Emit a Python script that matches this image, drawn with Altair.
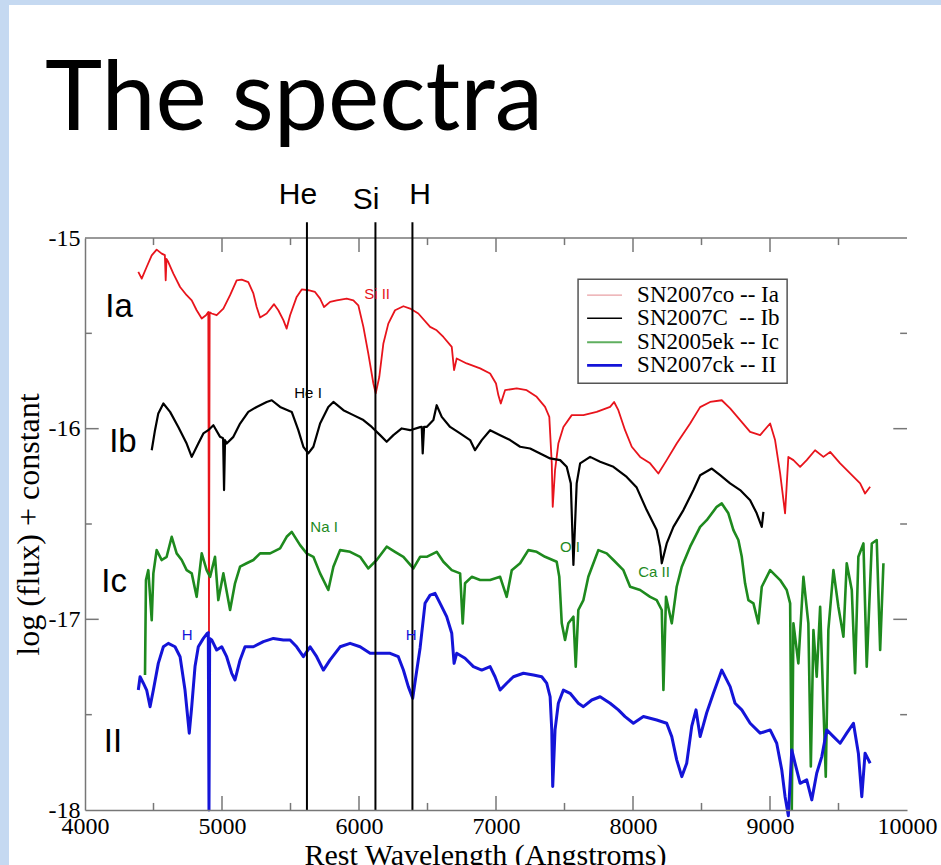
import altair as alt
import pandas as pd

# ---------------- data ----------------
ia_wl = [4389, 4414, 4450, 4487, 4523, 4560, 4583, 4589, 4595, 4608,
         4645, 4694, 4742, 4779, 4815, 4852, 4883, 4900, 4905, 4910,
         4925, 4961, 5010, 5059, 5107, 5144, 5192, 5229, 5253, 5278,
         5326, 5380, 5411, 5448, 5472, 5497, 5545, 5582, 5630, 5679,
         5716, 5745, 5789, 5837, 5910, 5959, 5995, 6032, 6068, 6105,
         6122, 6148, 6178, 6214, 6263, 6324, 6373, 6433, 6519, 6567,
         6616, 6677, 6694, 6713, 6786, 6884, 6957, 7000, 7017, 7035,
         7066, 7151, 7224, 7297, 7358, 7389, 7407, 7414, 7431, 7455,
         7492, 7553, 7638, 7735, 7833, 7862, 7893, 7942, 7991, 8052,
         8125, 8185, 8246, 8319, 8417, 8490, 8563, 8648, 8709, 8782,
         8855, 8928, 9001, 9037, 9074, 9110, 9134, 9171, 9220, 9268,
         9329, 9390, 9439, 9512, 9585, 9658, 9694, 9731]
ia_flux = [-15.178, -15.213, -15.152, -15.091, -15.061, -15.082, -15.09, -15.222, -15.11, -15.126,
           -15.187, -15.257, -15.300, -15.327, -15.379, -15.422, -15.405, -15.388, -17.07, -15.39,
           -15.396, -15.405, -15.370, -15.300, -15.222, -15.218, -15.231, -15.291, -15.362, -15.417,
           -15.396, -15.347, -15.379, -15.431, -15.475, -15.405, -15.309, -15.270, -15.274, -15.283,
           -15.318, -15.362, -15.335, -15.327, -15.318, -15.327, -15.353, -15.466, -15.606, -15.763,
           -15.815, -15.729, -15.553, -15.449, -15.379, -15.358, -15.370, -15.396, -15.466, -15.484,
           -15.519, -15.571, -15.693, -15.632, -15.658, -15.684, -15.711, -15.763, -15.824, -15.868,
           -15.798, -15.789, -15.798, -15.833, -15.886, -15.938, -16.182, -16.410, -16.217, -16.078,
           -15.991, -15.929, -15.929, -15.912, -15.886, -15.860, -15.903, -16.008, -16.095, -16.148,
           -16.182, -16.235, -16.165, -16.078, -15.973, -15.887, -15.860, -15.851, -15.894, -15.955,
           -16.017, -16.034, -15.973, -16.060, -16.235, -16.444, -16.148, -16.165, -16.200, -16.165,
           -16.113, -16.148, -16.122, -16.182, -16.235, -16.287, -16.340, -16.305]

ib_wl = [4487, 4511, 4535, 4572, 4621, 4681, 4742, 4779, 4827, 4864,
         4900, 4937, 4986, 5008, 5015, 5022, 5034, 5083, 5132, 5192,
         5253, 5326, 5363, 5424, 5509, 5557, 5594, 5630, 5667, 5716,
         5776, 5813, 5886, 5959, 6032, 6093, 6154, 6202, 6251, 6312,
         6373, 6446, 6458, 6465, 6475, 6494, 6543, 6567, 6604, 6665,
         6738, 6811, 6847, 6896, 6957, 7030, 7103, 7176, 7249, 7322,
         7395, 7468, 7516, 7546, 7565, 7589, 7614, 7687, 7760, 7857,
         7954, 8027, 8100, 8173, 8198, 8210, 8246, 8295, 8368, 8441,
         8490, 8575, 8636, 8709, 8782, 8855, 8903, 8940, 8952]
ib_flux = [-16.113, -16.008, -15.920, -15.868, -15.912, -15.991, -16.078, -16.148, -16.078, -16.025,
           -16.008, -15.982, -16.043, -16.05, -16.322, -16.06, -16.078, -16.043, -15.973, -15.912,
           -15.886, -15.860, -15.851, -15.886, -15.912, -16.008, -16.095, -16.130, -16.095, -15.973,
           -15.886, -15.860, -15.903, -15.929, -15.955, -15.991, -16.034, -16.069, -16.034, -15.999,
           -16.008, -15.992, -15.99, -16.130, -15.99, -15.991, -15.955, -15.877, -15.938, -15.991,
           -16.025, -16.060, -16.113, -16.060, -16.008, -16.034, -16.060, -16.095, -16.104, -16.130,
           -16.156, -16.165, -16.200, -16.287, -16.715, -16.287, -16.182, -16.148, -16.174, -16.200,
           -16.253, -16.309, -16.427, -16.532, -16.619, -16.706, -16.602, -16.515, -16.427, -16.322,
           -16.244, -16.209, -16.244, -16.287, -16.322, -16.375, -16.444, -16.515, -16.436]

ic_wl = [4438, 4445, 4462, 4487, 4499, 4523, 4560, 4596, 4633, 4669,
         4706, 4742, 4779, 4815, 4852, 4888, 4913, 4949, 4973, 5010,
         5059, 5095, 5132, 5180, 5229, 5278, 5351, 5424, 5472, 5509,
         5570, 5618, 5667, 5716, 5776, 5813, 5862, 5935, 6008, 6068,
         6129, 6202, 6263, 6324, 6397, 6446, 6494, 6567, 6616, 6677,
         6738, 6757, 6774, 6823, 6884, 6957, 7030, 7078, 7115, 7176,
         7236, 7297, 7358, 7443, 7462, 7480, 7504, 7528, 7565, 7582,
         7601, 7638, 7674, 7711, 7747, 7808, 7857, 7930, 7979, 8052,
         8125, 8173, 8210, 8222, 8241, 8283, 8319, 8356, 8417, 8490,
         8538, 8611, 8648, 8696, 8733, 8769, 8794, 8818, 8842, 8879,
         8915, 8940, 9001, 9074, 9122, 9147, 9159, 9171, 9207, 9244,
         9280, 9298, 9317, 9341, 9366, 9407, 9426, 9463, 9499, 9536,
         9560, 9597, 9621, 9645, 9682, 9706, 9743, 9779, 9804, 9828]
ic_flux = [-17.292, -16.794, -16.742, -17.004, -16.759, -16.637, -16.689, -16.672, -16.567, -16.654,
           -16.689, -16.742, -16.759, -16.882, -16.654, -16.742, -16.777, -16.672, -16.899, -16.759,
           -16.951, -16.811, -16.724, -16.706, -16.689, -16.654, -16.654, -16.628, -16.567, -16.541,
           -16.611, -16.654, -16.672, -16.759, -16.846, -16.724, -16.637, -16.646, -16.672, -16.733,
           -16.689, -16.619, -16.646, -16.672, -16.733, -16.672, -16.672, -16.646, -16.698, -16.742,
           -16.759, -17.021, -16.811, -16.777, -16.794, -16.794, -16.777, -16.882, -16.742, -16.706,
           -16.637, -16.646, -16.672, -16.698, -16.777, -17.021, -17.108, -17.021, -16.986, -17.248,
           -16.951, -16.899, -16.777, -16.706, -16.637, -16.654, -16.689, -16.742, -16.829, -16.846,
           -16.882, -16.899, -16.951, -17.370, -16.882, -17.021, -16.829, -16.724, -16.619, -16.515,
           -16.480, -16.410, -16.392, -16.444, -16.532, -16.584, -16.672, -16.811, -16.899, -16.916,
           -17.021, -16.829, -16.742, -16.794, -16.846, -16.916, -17.999, -17.021, -17.231, -16.777,
           -17.021, -17.772, -17.056, -17.301, -16.934, -17.825, -17.056, -16.742, -16.934, -17.091,
           -16.706, -16.846, -17.283, -16.672, -16.602, -17.248, -16.602, -16.584, -17.161, -16.706]

ii_wl = [4389, 4402, 4426, 4450, 4475, 4499, 4535, 4572, 4608, 4657,
         4694, 4730, 4754, 4761, 4779, 4803, 4827, 4864, 4893, 4900,
         4905, 4910, 4925, 4961, 4998, 5034, 5071, 5095, 5132, 5168,
         5229, 5302, 5375, 5448, 5497, 5545, 5594, 5643, 5691, 5740,
         5789, 5862, 5935, 6008, 6081, 6154, 6227, 6287, 6324, 6360,
         6392, 6415, 6446, 6482, 6519, 6555, 6592, 6640, 6677, 6694,
         6713, 6774, 6835, 6896, 6957, 6993, 7030, 7078, 7127, 7200,
         7273, 7334, 7370, 7395, 7407, 7414, 7431, 7455, 7492, 7541,
         7601, 7638, 7699, 7760, 7833, 7893, 7942, 8003, 8076, 8173,
         8246, 8283, 8319, 8356, 8392, 8429, 8460, 8490, 8538, 8587,
         8648, 8709, 8745, 8794, 8855, 8928, 9001, 9049, 9086, 9110,
         9134, 9159, 9183, 9220, 9268, 9305, 9341, 9378, 9414, 9463,
         9512, 9560, 9609, 9645, 9670, 9694, 9731]
ii_flux = [-17.371, -17.301, -17.335, -17.371, -17.458, -17.371, -17.231, -17.144, -17.126, -17.144,
           -17.196, -17.371, -17.545, -17.597, -17.458, -17.248, -17.144, -17.100, -17.073, -17.07,
           -18.0, -17.10, -17.108, -17.161, -17.144, -17.196, -17.283, -17.318, -17.213, -17.144,
           -17.144, -17.117, -17.100, -17.108, -17.108, -17.144, -17.196, -17.144, -17.196, -17.266,
           -17.213, -17.144, -17.126, -17.144, -17.178, -17.178, -17.178, -17.196, -17.266, -17.353,
           -17.414, -17.30, -17.15, -16.916, -16.873, -16.864, -16.916, -16.986, -17.073, -17.231,
           -17.178, -17.204, -17.248, -17.266, -17.248, -17.301, -17.371, -17.335, -17.301, -17.283,
           -17.292, -17.301, -17.335, -17.406, -17.580, -17.877, -17.580, -17.440, -17.371, -17.388,
           -17.440, -17.458, -17.423, -17.406, -17.440, -17.475, -17.510, -17.545, -17.510, -17.528,
           -17.545, -17.615, -17.737, -17.825, -17.755, -17.56, -17.475, -17.615, -17.49, -17.388,
           -17.266, -17.353, -17.440, -17.475, -17.545, -17.597, -17.580, -17.650, -17.790, -17.930,
           -18.03, -17.685, -17.755, -17.860, -17.842, -17.947, -17.807, -17.720, -17.580, -17.615,
           -17.650, -17.597, -17.545, -17.702, -17.930, -17.702, -17.755]

series_names = ["SN2007co -- Ia", "SN2007C\u00a0 -- Ib", "SN2005ek -- Ic", "SN2007ck -- II"]
series_colors = ["#e8141c", "#000000", "#1e8a1e", "#1414d8"]
series_widths = [1.8, 3.0, 2.4, 3.0]
legend_line_colors = ["#e9a0a4", "#000000", "#5faf5f", "#1414d8"]
legend_line_widths = [1.2, 2.6, 1.4, 2.6]

# element marker lines and labels
line_names = ["He", "Si", "H"]
line_wl = [5620, 6120, 6390]
line_top = -14.918
label_wl = [5555, 6051, 6446]
label_flux = [-14.776, -14.802, -14.776]

# supernova type labels
type_text = ["Ia", "Ib", "Ic", "II"]
type_wl = [4248, 4277, 4212, 4204]
type_flux = [-15.363, -16.070, -16.805, -17.643]

# small line identifications
ann_text = ["Si II", "He I", "Na I", "O I", "Ca II", "H", "H"]
ann_wl = [6132, 5628, 5745, 7540, 8154, 4745, 6380]
ann_flux = [-15.295, -15.814, -16.517, -16.622, -16.753, -17.082, -17.082]
ann_color = ["#e8141c", "#000000", "#1e8a1e", "#1e8a1e", "#1e8a1e", "#1414d8", "#1414d8"]

# axis ticks
x_ticks = [4000, 5000, 6000, 7000, 8000, 9000, 10000]
y_ticks = [-15, -16, -17, -18]
x_major_in = [5000, 6000, 7000, 8000, 9000]
x_minor_in = [4500, 5500, 6500, 7500, 8500, 9500]
y_major_in = [-16, -17]
y_minor_in = [-15.5, -16.5, -17.5]

# legend box placement (in data units of the plot)
LEG_X0, LEG_X1, LEG_Y0, LEG_Y1 = 7599, 9125, -15.216, -15.762
LEG_LINE_X0, LEG_LINE_X1, LEG_TEXT_X = 7665, 7920, 8030
leg_rows_y = [-15.300, -15.421, -15.547, -15.668]

# ---------------- build tables ----------------
frames = []
for name, wl, fl in zip(series_names, [ia_wl, ib_wl, ic_wl, ii_wl],
                        [ia_flux, ib_flux, ic_flux, ii_flux]):
    frames.append(pd.DataFrame({"wl": wl, "flux": fl, "series": name}))
spec = pd.concat(frames, ignore_index=True)

XMIN, XMAX, YMIN, YMAX = 4000, 10000, -18, -15
MAJ_Y, MIN_Y, MAJ_X, MIN_X = 0.073, 0.037, 100, 50
tick_rows = []
for v in x_major_in:
    tick_rows.append((v, v, YMIN, YMIN + MAJ_Y))
    tick_rows.append((v, v, YMAX, YMAX - MAJ_Y))
for v in x_minor_in:
    tick_rows.append((v, v, YMIN, YMIN + MIN_Y))
    tick_rows.append((v, v, YMAX, YMAX - MIN_Y))
for v in y_major_in:
    tick_rows.append((XMIN, XMIN + MAJ_X, v, v))
    tick_rows.append((XMAX, XMAX - MAJ_X, v, v))
for v in y_minor_in:
    tick_rows.append((XMIN, XMIN + MIN_X, v, v))
    tick_rows.append((XMAX, XMAX - MIN_X, v, v))
tick_rows.append((XMIN, XMAX, YMAX, YMAX))  # top frame
ticks = pd.DataFrame(tick_rows, columns=["x", "x2", "y", "y2"])

xs = alt.Scale(domain=[XMIN, XMAX], nice=False, zero=False)
ys = alt.Scale(domain=[YMIN, YMAX], nice=False, zero=False)
SERIF = "Liberation Serif"
SANS = "Liberation Sans"
FRAME = "#777777"

ax_x = alt.Axis(values=x_ticks, format="d", title="Rest Wavelength (Angstroms)",
                grid=False, ticks=False, tickSize=0, domainColor=FRAME, domainWidth=1.5,
                labelFont=SERIF, labelFontSize=24, labelColor="black", labelPadding=4,
                labelFlush=False, labelOverlap=False, zindex=1,
                titleFont=SERIF, titleFontSize=30, titleFontWeight="normal",
                titleColor="black", titlePadding=2, titleX=400, titleAlign="center")
ax_y = alt.Axis(values=y_ticks, labelExpr="'-' + abs(datum.value)",
                title="log (flux) + constant",
                grid=False, ticks=False, tickSize=0, domainColor=FRAME, domainWidth=1.5,
                labelFont=SERIF, labelFontSize=24, labelColor="black", labelPadding=5,
                labelFlush=False, labelOverlap=False, zindex=1,
                titleFont=SERIF, titleFontSize=32, titleFontWeight="normal",
                titleColor="black", titlePadding=3)


def X(field):
    return alt.X(field, scale=xs, axis=ax_x)


def Y(field):
    return alt.Y(field, scale=ys, axis=ax_y)


bg = alt.Chart(pd.DataFrame({"a": [0]})).mark_rect(color="white").encode(
    x=alt.value(-76), x2=alt.value(860), y=alt.value(-233), y2=alt.value(630)
)

title = alt.Chart(pd.DataFrame({"t": ["The spectra"]})).mark_text(
    font="Lato", fontSize=97, color="black", align="left", baseline="alphabetic").encode(
    x=alt.value(-40), y=alt.value(-108), text="t:N")

tick_layer = alt.Chart(ticks).mark_rule(color=FRAME, strokeWidth=1.5).encode(
    x=X("x:Q"), x2="x2:Q", y=Y("y:Q"), y2="y2:Q",
)

lines = alt.Chart(spec).mark_line(strokeJoin="round").encode(
    x=X("wl:Q"),
    y=Y("flux:Q"),
    color=alt.Color("series:N", sort=series_names,
                    scale=alt.Scale(domain=series_names, range=series_colors), legend=None),
    strokeWidth=alt.StrokeWidth("series:N", scale=alt.Scale(domain=series_names, range=series_widths),
                                legend=None),
)

elem_rules = alt.Chart(pd.DataFrame({"wl": line_wl, "top": [line_top] * len(line_wl),
                                     "bottom": [YMIN] * len(line_wl)})).mark_rule(
    color="black", strokeWidth=2).encode(
    x=X("wl:Q"), y=Y("top:Q"), y2="bottom:Q",
)

elem_labels = alt.Chart(pd.DataFrame({"wl": label_wl, "flux": label_flux, "t": line_names})).mark_text(
    font=SANS, fontSize=30, color="black", align="center", baseline="middle").encode(
    x=X("wl:Q"), y=Y("flux:Q"), text="t:N")

type_labels = alt.Chart(pd.DataFrame({"wl": type_wl, "flux": type_flux, "t": type_text})).mark_text(
    font=SANS, fontSize=33, color="black", align="center", baseline="middle").encode(
    x=X("wl:Q"), y=Y("flux:Q"), text="t:N")

ann_df = pd.DataFrame({"wl": ann_wl, "flux": ann_flux, "t": ann_text, "c": ann_color})
ann_layers = []
for c in dict.fromkeys(ann_color):
    ann_layers.append(
        alt.Chart(ann_df[ann_df["c"] == c]).mark_text(
            font=SANS, fontSize=15, color=c, align="center", baseline="middle").encode(
            x=X("wl:Q"), y=Y("flux:Q"), text="t:N")
    )

# legend drawn as a framed key
leg_box = alt.Chart(pd.DataFrame({"x": [LEG_X0], "x2": [LEG_X1], "y": [LEG_Y0], "y2": [LEG_Y1]})).mark_rect(
    fill="white", stroke="#555555", strokeWidth=1.5).encode(
    x=X("x:Q"), x2="x2:Q", y=Y("y:Q"), y2="y2:Q")
leg_df = pd.DataFrame({"series": series_names, "y": leg_rows_y,
                       "x": [LEG_LINE_X0] * 4, "x2": [LEG_LINE_X1] * 4, "tx": [LEG_TEXT_X] * 4})
leg_lines = alt.Chart(leg_df).mark_rule().encode(
    x=X("x:Q"), x2="x2:Q", y=Y("y:Q"),
    color=alt.Color("series:N", scale=alt.Scale(domain=series_names, range=legend_line_colors),
                    legend=None),
    strokeWidth=alt.StrokeWidth("series:N", scale=alt.Scale(domain=series_names,
                                                            range=legend_line_widths), legend=None),
)
leg_text = alt.Chart(leg_df).mark_text(font=SERIF, fontSize=23, color="black", align="left",
                                       baseline="middle").encode(
    x=X("tx:Q"), y=Y("y:Q"), text="series:N")

chart = alt.layer(bg, title, tick_layer, lines, elem_rules, elem_labels, type_labels, *ann_layers,
                  leg_box, leg_lines, leg_text).resolve_scale(
    color="independent", strokeWidth="independent").properties(
    width=822, height=572,
    autosize=alt.AutoSizeParams(type="none"),
    padding={"left": 85, "top": 238, "right": 34, "bottom": 55},
    background="#c5d9f1",
).configure_view(stroke=None)

chart.save("out.html", embed_options={"renderer": "svg", "actions": False})
